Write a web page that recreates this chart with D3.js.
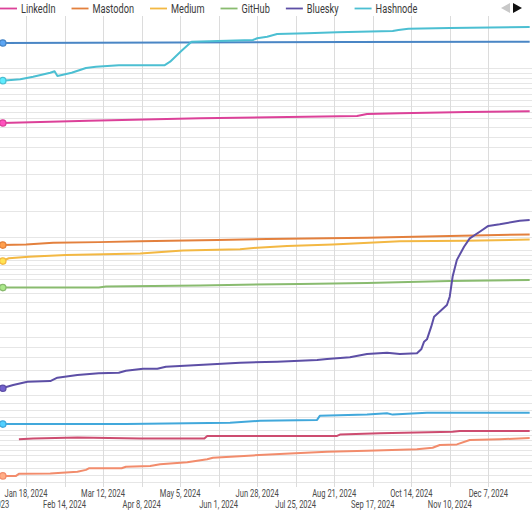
<!DOCTYPE html>
<html lang="en">
<head>
  <meta charset="UTF-8">
  <title>Followers by platform, 2024</title>
  <script src="https://d3js.org/d3.v7.min.js"></script>
  <style>
    html, body { margin: 0; padding: 0; background: #fff; }
    text { font-family: Roboto, "Noto Sans", sans-serif; }
  </style>
</head>
<body>
<div id="chart"></div>
<script>
// tick dates on the time axis (every 27 days)
const tickDates = ["2023-12-22", "2024-01-18", "2024-02-14", "2024-03-12", "2024-04-08",
  "2024-05-05", "2024-06-01", "2024-06-28", "2024-07-25", "2024-08-21",
  "2024-09-17", "2024-10-14", "2024-11-10", "2024-12-07"];

// horizontal gridline values (log axis)
const gridValues = [1910, 1808, 1712, 1620, 1534, 1436, 1345, 1259, 1179, 1104,
  1000, 900, 800, 700, 600, 500, 400, 300, 260, 246, 233, 220, 211, 200,
  189, 173, 162, 147, 132, 117, 100, 90, 80, 70, 62.4, 52.9, 48.5, 44.9,
  41.6, 36.1, 34.1, 32.3, 30.6, 29.0, 27.4, 25.7, 23.8, 22.0, 20.4];

// series (date, value)
const blueTop = [["2024-01-01", 2512], ["2024-05-01", 2525], ["2024-09-01", 2538], ["2025-01-05", 2548]];

const hashnode = [["2024-01-01", 1662], ["2024-01-14", 1687], ["2024-01-23", 1736], ["2024-02-04", 1814],
  ["2024-02-07", 1842], ["2024-02-09", 1750], ["2024-02-19", 1814], ["2024-02-29", 1910],
  ["2024-03-07", 1937], ["2024-03-23", 1967], ["2024-04-24", 1967], ["2024-04-28", 2046],
  ["2024-05-06", 2309], ["2024-05-13", 2548], ["2024-06-25", 2596], ["2024-06-28", 2645],
  ["2024-07-05", 2692], ["2024-07-12", 2773], ["2024-08-02", 2794], ["2024-08-23", 2825],
  ["2024-10-01", 2865], ["2024-10-05", 2896], ["2024-10-12", 2938], ["2024-11-10", 2960],
  ["2025-01-05", 2993]];

const linkedin = [["2024-01-01", 1045], ["2024-03-02", 1072], ["2024-05-19", 1100], ["2024-09-06", 1128],
  ["2024-09-13", 1153], ["2024-10-06", 1162], ["2024-11-22", 1179], ["2025-01-05", 1190]];

const mastodon = [["2024-01-01", 274], ["2024-01-18", 276], ["2024-02-06", 281], ["2024-03-09", 283],
  ["2024-04-07", 286], ["2024-05-31", 290], ["2024-07-05", 293], ["2024-09-13", 297],
  ["2024-11-10", 303], ["2025-01-05", 308]];

const medium = [["2024-01-01", 230], ["2024-01-06", 237], ["2024-01-20", 241], ["2024-02-15", 246],
  ["2024-04-07", 250], ["2024-05-07", 258], ["2024-06-16", 262], ["2024-06-28", 266],
  ["2024-07-19", 271], ["2024-08-20", 276], ["2024-10-06", 286], ["2024-11-22", 287],
  ["2025-01-05", 291]];

const github = [["2024-01-01", 172], ["2024-03-09", 172], ["2024-03-14", 174], ["2024-05-19", 176],
  ["2024-07-28", 179], ["2024-09-13", 181], ["2024-11-10", 185], ["2025-01-05", 187]];

const bluesky = [["2024-01-01", 57.0], ["2024-01-09", 59.1], ["2024-01-19", 61.2], ["2024-02-04", 61.7],
  ["2024-02-09", 64.0], ["2024-02-23", 65.9], ["2024-03-09", 67.2], ["2024-03-23", 67.6],
  ["2024-03-28", 69.1], ["2024-04-09", 70.6], ["2024-04-19", 70.6], ["2024-04-25", 72.2],
  ["2024-05-31", 74.4], ["2024-06-16", 75.4], ["2024-07-12", 76.3], ["2024-08-09", 77.7],
  ["2024-08-16", 78.6], ["2024-09-01", 80.1], ["2024-09-13", 83.0], ["2024-09-27", 84.2],
  ["2024-10-06", 83.0], ["2024-10-18", 83.6], ["2024-10-21", 87.4], ["2024-10-23", 95.0],
  ["2024-10-25", 97.5], ["2024-10-28", 112], ["2024-10-30", 125], ["2024-11-04", 134],
  ["2024-11-08", 142], ["2024-11-10", 156], ["2024-11-12", 194], ["2024-11-15", 233],
  ["2024-11-20", 269], ["2024-11-24", 295], ["2024-12-01", 317], ["2024-12-07", 338],
  ["2024-12-15", 344], ["2024-12-29", 358], ["2025-01-05", 361]];

const lightBlue = [["2024-01-01", 38.5], ["2024-03-28", 38.5], ["2024-06-09", 39.1], ["2024-06-30", 39.9],
  ["2024-08-09", 40.3], ["2024-08-11", 42.2], ["2024-09-13", 42.7], ["2024-09-27", 43.3],
  ["2024-10-01", 42.7], ["2024-10-25", 43.6], ["2025-01-05", 43.6]];

const crimson = [["2024-01-13", 32.6], ["2024-01-23", 32.9], ["2024-02-23", 33.2], ["2024-04-07", 32.9],
  ["2024-05-22", 32.9], ["2024-05-24", 33.8], ["2024-08-23", 33.8], ["2024-08-25", 34.3],
  ["2024-09-22", 34.8], ["2024-11-12", 35.4], ["2024-11-17", 35.7], ["2025-01-05", 35.7]];

const salmon = [["2024-01-01", 21.8], ["2024-01-11", 21.8], ["2024-01-13", 22.3], ["2024-02-04", 22.4],
  ["2024-02-23", 22.8], ["2024-02-29", 23.3], ["2024-03-02", 23.7], ["2024-03-25", 23.7],
  ["2024-03-28", 24.1], ["2024-04-14", 24.3], ["2024-04-21", 24.8], ["2024-05-10", 25.3],
  ["2024-05-24", 26.2], ["2024-05-28", 26.6], ["2024-06-25", 27.3], ["2024-07-21", 27.9],
  ["2024-08-16", 28.4], ["2024-09-13", 28.7], ["2024-10-18", 29.2], ["2024-10-29", 29.7],
  ["2024-11-03", 30.6], ["2024-11-15", 30.8], ["2024-11-24", 32.3], ["2024-12-15", 32.6],
  ["2025-01-05", 33.0]];

// legend entries visible in the picture
const legendNames = ["LinkedIn", "Mastodon", "Medium", "GitHub", "Bluesky", "Hashnode"];

const series = [
  { name: "blueTop", data: blueTop, color: "#4a86c5", marker: true },
  { name: "Hashnode", data: hashnode, color: "#4cbfd2", marker: true },
  { name: "LinkedIn", data: linkedin, color: "#dc4199", marker: true },
  { name: "Mastodon", data: mastodon, color: "#e3803d", marker: true },
  { name: "Medium", data: medium, color: "#f3b843", marker: true },
  { name: "GitHub", data: github, color: "#89bb6f", marker: true },
  { name: "Bluesky", data: bluesky, color: "#5d4fa6", marker: true },
  { name: "lightBlue", data: lightBlue, color: "#41a8db", marker: true },
  { name: "crimson", data: crimson, color: "#cd4c70", marker: false },
  { name: "salmon", data: salmon, color: "#f28c6c", marker: true }
];

const width = 532;
const height = 510;
const plotTop = 16;
const plotBottom = 487;
const squeeze = 0.72; // text in the picture is horizontally compressed

const parse = d3.utcParse("%Y-%m-%d");
const fmt = d3.utcFormat("%b %-d, %Y");

const x = d3.scaleUtc()
  .domain([parse("2023-12-22"), parse("2024-12-07")])
  .range([-12.5, 488.3]);

const y = d3.scaleLog()
  .domain([100, 1000])
  .range([337, 127]);

const svg = d3.select("#chart")
  .append("svg")
  .attr("width", width)
  .attr("height", height);

// horizontal gridlines
svg.append("g")
  .selectAll("line")
  .data(gridValues)
  .enter()
  .append("line")
  .attr("x1", 0)
  .attr("x2", width)
  .attr("y1", d => Math.round(y(d)) + 0.5)
  .attr("y2", d => Math.round(y(d)) + 0.5)
  .attr("stroke", "#e6e6e6")
  .attr("stroke-width", 1);

// vertical gridlines
svg.append("g")
  .selectAll("line")
  .data(tickDates)
  .enter()
  .append("line")
  .attr("x1", d => Math.round(x(parse(d))) + 0.5)
  .attr("x2", d => Math.round(x(parse(d))) + 0.5)
  .attr("y1", plotTop)
  .attr("y2", plotBottom)
  .attr("stroke", "#dcdcdc")
  .attr("stroke-width", 1);

// lines
const line = d3.line()
  .x(d => x(parse(d[0])))
  .y(d => y(d[1]));

svg.append("g")
  .selectAll("path")
  .data(series)
  .enter()
  .append("path")
  .attr("d", d => line(d.data))
  .attr("fill", "none")
  .attr("stroke", d => d.color)
  .attr("stroke-width", 2)
  .attr("stroke-linejoin", "round");

// start markers
svg.append("g")
  .selectAll("circle")
  .data(series.filter(s => s.marker))
  .enter()
  .append("circle")
  .attr("cx", d => x(parse(d.data[0][0])) + 1)
  .attr("cy", d => y(d.data[0][1]))
  .attr("r", 3.2)
  .attr("fill", d => d3.color(d.color).brighter(0.6))
  .attr("stroke", d => d.color)
  .attr("stroke-width", 1.3);

// x axis labels, two staggered rows
svg.append("g")
  .selectAll("text")
  .data(tickDates)
  .enter()
  .append("text")
  .attr("transform", (d, i) => `translate(${x(parse(d))},${i % 2 === 0 ? 507.5 : 497}) scale(${squeeze},1)`)
  .attr("text-anchor", "middle")
  .attr("font-size", "10.5px")
  .attr("fill", "#4a4a4a")
  .text(d => fmt(parse(d)));

// legend
const colorOf = name => series.find(s => s.name === name).color;
const legend = svg.append("g");
let lx = 0;
legendNames.forEach(name => {
  legend.append("line")
    .attr("x1", lx)
    .attr("x2", lx + 17)
    .attr("y1", 8.5)
    .attr("y2", 8.5)
    .attr("stroke", colorOf(name))
    .attr("stroke-width", 1.8);
  const t = legend.append("text")
    .attr("transform", `translate(${lx + 21},13) scale(${squeeze},1)`)
    .attr("font-size", "12.8px")
    .attr("fill", "#3a3a3a")
    .text(name);
  lx += 21 + t.node().getComputedTextLength() * squeeze + 16;
});

// legend paging arrows
svg.append("path")
  .attr("d", "M510,3 L510,13 L501,8 Z")
  .attr("fill", "#c8c8c8");
svg.append("path")
  .attr("d", "M513,3 L513,13 L522,8 Z")
  .attr("fill", "#111");
</script>
</body>
</html>
